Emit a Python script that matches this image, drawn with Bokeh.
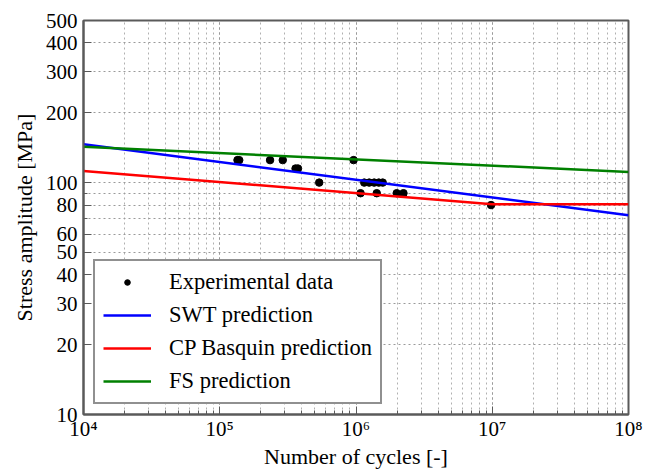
from bokeh.plotting import figure
from bokeh.models import FixedTicker, LogTicker, Legend, LegendItem, Range1d
from bokeh.embed import file_html
from bokeh.resources import INLINE

# ---- data ----
exp_cycles = [1.35e5, 1.39e5, 2.34e5, 2.9e5, 3.6e5, 3.75e5, 5.37e5, 9.6e5,
              1.08e6, 1.15e6, 1.25e6, 1.36e6, 1.47e6, 1.57e6, 1.42e6, 1.99e6,
              2.23e6, 9.8e6]
exp_stress = [125, 125, 125, 125, 115, 115, 100, 125,
              90, 100, 100, 100, 100, 100, 90, 90,
              90, 80]

swt_cycles = [1e4, 1e8]
swt_stress = [146.5, 72.3]

basquin_cycles = [1e4, 1e7, 1e8]
basquin_stress = [112.3, 80.6, 80.6]

fs_cycles = [1e4, 1e8]
fs_stress = [142.6, 111.2]

y_ticks = [10, 20, 30, 40, 50, 60, 80, 100, 200, 300, 400, 500]
y_unlabelled = [70, 90]
x_ticks = [1e4, 1e5, 1e6, 1e7, 1e8]
x_tick_labels = ["10\u2074", "10\u2075", "10\u2076", "10\u2077", "10\u2078"]

FONT = "Liberation Serif"
AX = "#5a5a5a"

p = figure(width=656, height=472, x_axis_type="log", y_axis_type="log",
           x_range=Range1d(1e4, 1e8), y_range=Range1d(10, 500),
           output_backend="svg", toolbar_location=None,
           min_border_left=83, min_border_right=28, min_border_top=20,
           min_border_bottom=58)
p.background_fill_color = "white"
p.border_fill_color = "white"
p.outline_line_color = AX
p.outline_line_width = 2

p.xaxis.ticker = LogTicker(num_minor_ticks=10)
p.xaxis.major_label_overrides = {int(t): l for t, l in zip(x_ticks, x_tick_labels)}
p.yaxis.ticker = FixedTicker(ticks=y_ticks, minor_ticks=y_unlabelled)

for ax in (p.xaxis[0], p.yaxis[0]):
    ax.major_label_text_font = FONT
    ax.major_label_text_font_size = "21px"
    ax.major_label_text_color = "black"
    ax.axis_label_text_font = FONT
    ax.axis_label_text_font_size = "22px"
    ax.axis_label_text_font_style = "normal"
    ax.axis_label_text_color = "black"
    ax.axis_line_color = AX
    ax.axis_line_width = 2
    ax.major_tick_in = 8
    ax.major_tick_out = 0
    ax.minor_tick_in = 4
    ax.minor_tick_out = 0
    ax.major_tick_line_color = AX
    ax.minor_tick_line_color = AX

p.xaxis.axis_label = "Number of cycles [-]"
p.yaxis.axis_label = "Stress amplitude [MPa]"
p.xaxis.major_label_standoff = 2
p.xaxis.axis_label_standoff = 0
p.yaxis.major_label_standoff = 6
p.yaxis.axis_label_standoff = 6

# grids
p.xgrid.grid_line_color = "#9a9a9a"
p.xgrid.grid_line_dash = "2 3"
p.xgrid.minor_grid_line_color = "#b0b0b0"
p.xgrid.minor_grid_line_dash = "2 3"
p.ygrid.grid_line_color = "#9a9a9a"
p.ygrid.grid_line_dash = "2 3"
p.ygrid.minor_grid_line_color = "#9a9a9a"
p.ygrid.minor_grid_line_dash = "2 3"

# series
r_exp = p.scatter(exp_cycles, exp_stress, size=7.5, color="black")
r_swt = p.line(swt_cycles, swt_stress, line_color="#0000ff", line_width=2.5)
r_bas = p.line(basquin_cycles, basquin_stress, line_color="#ff0000", line_width=2.5)
r_fs = p.line(fs_cycles, fs_stress, line_color="#008000", line_width=2.5)

legend = Legend(items=[
    LegendItem(label="Experimental data", renderers=[r_exp]),
    LegendItem(label="SWT prediction", renderers=[r_swt]),
    LegendItem(label="CP Basquin prediction", renderers=[r_bas]),
    LegendItem(label="FS prediction", renderers=[r_fs]),
], location="bottom_left")
legend.margin = 10
legend.padding = 8
legend.spacing = 7
legend.glyph_width = 48
legend.glyph_height = 14
legend.label_height = 25
legend.label_standoff = 18
legend.label_text_font = FONT
legend.label_text_font_size = "22.5px"
legend.label_text_color = "black"
legend.label_text_baseline = "middle"
legend.border_line_color = "#222222"
legend.border_line_width = 2
legend.background_fill_color = "white"
legend.background_fill_alpha = 1.0
p.add_layout(legend)

open("out.html", "w").write(file_html(p, INLINE))
